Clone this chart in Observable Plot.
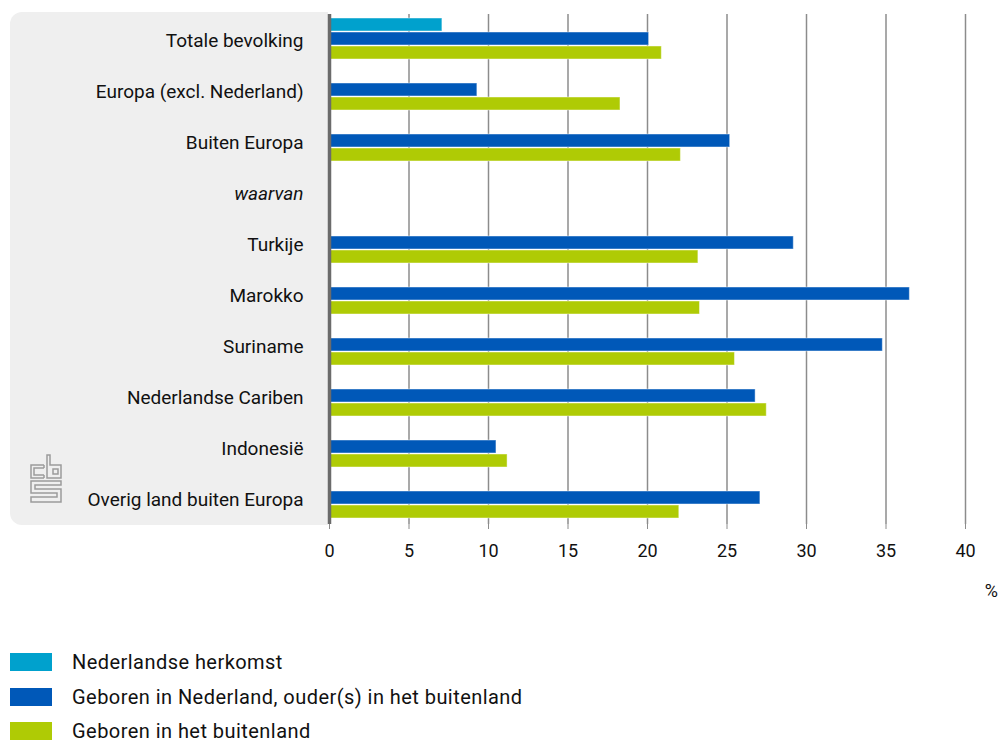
<!DOCTYPE html>
<html>
<head>
<meta charset="utf-8">
<script src="https://cdn.jsdelivr.net/npm/d3@7"></script>
<script src="https://cdn.jsdelivr.net/npm/@observablehq/plot@0.6"></script>
<style>
  html, body { margin: 0; background: white; font-family: Roboto, sans-serif; overflow: hidden; }
  #wrap { position: relative; width: 998px; }
  #panel { position: absolute; left: 10px; top: 12px; width: 318px; height: 513px; background: #efefef; border-radius: 12px 0 0 12px; }
  #logo { position: absolute; left: 30px; top: 454px; }
  #chart { position: relative; }
  #pct { position: absolute; right: 0px; top: 580px; font-size: 18px; color: #111; }
  #legend { margin-top: 42px; }
  .item { display: flex; align-items: center; height: 20px; margin-bottom: 14.5px; }
  .item:last-child { margin-bottom: 0; }
  .sw { width: 42px; height: 18px; margin-left: 10px; margin-right: 20px; }
  .lab { font-size: 20px; letter-spacing: 0.45px; color: #111; line-height: 20px; }
</style>
</head>
<body>
<div id="wrap">
  <div id="panel"></div>
  <svg id="logo" width="33" height="50" viewBox="0 0 33 50" fill="none" stroke="#9c9c9c" stroke-width="1.5">
    <path d="M14 11 H1 V24 H14 M14 14 H4 V21 H14 M14 11 V14 M14 21 V24"/>
    <path d="M17 1 H20 V11 H31 V24 H17 Z"/>
    <path d="M23 15 H28 V20 H23 Z"/>
    <path d="M31 27 H1 V39 H27 V43 H1 V48 H31 V35 H5 V31 H31 Z"/>
  </svg>
  <div id="chart"></div>
  <div id="pct">%</div>
</div>
<div id="legend"></div>
<script>
const categories = [
  "Totale bevolking",
  "Europa (excl. Nederland)",
  "Buiten Europa",
  "waarvan",
  "Turkije",
  "Marokko",
  "Suriname",
  "Nederlandse Cariben",
  "Indonesië",
  "Overig land buiten Europa"
];
const seriesNames = [
  "Nederlandse herkomst",
  "Geboren in Nederland, ouder(s) in het buitenland",
  "Geboren in het buitenland"
];
const seriesColors = ["#00a1cd", "#0058b8", "#afcb05"];
const nederlandseHerkomst = [7.1, null, null, null, null, null, null, null, null, null];
const geborenInNederland = [20.1, 9.3, 25.2, null, 29.2, 36.5, 34.8, 26.8, 10.5, 27.1];
const geborenInBuitenland = [20.9, 18.3, 22.1, null, 23.2, 23.3, 25.5, 27.5, 11.2, 22.0];
const xTicks = [0, 5, 10, 15, 20, 25, 30, 35, 40];
const italicCategory = "waarvan";

const seriesValues = [nederlandseHerkomst, geborenInNederland, geborenInBuitenland];
const rows = [];
categories.forEach((c, i) => {
  seriesValues.forEach((vals, s) => {
    if (vals[i] != null) rows.push({category: c, series: seriesNames[s], value: vals[i]});
  });
});

const chart = Plot.plot({
  width: 998,
  height: 610,
  marginLeft: 329,
  marginRight: 33,
  marginTop: 12,
  marginBottom: 85,
  style: {background: "transparent", fontFamily: "Roboto, sans-serif"},
  x: {domain: [0, 40], label: null},
  y: {domain: seriesNames, axis: null, paddingInner: 0.1, paddingOuter: 0.3},
  fy: {domain: categories, axis: null, padding: 0},
  color: {domain: seriesNames, range: seriesColors},
  marks: [
    Plot.gridX(xTicks, {stroke: "#8c8c8c", strokeOpacity: 1, strokeWidth: 1.5}),
    Plot.barX(rows, {fy: "category", y: "series", x: "value", fill: "series", stroke: "white", strokeOpacity: 0.45, strokeWidth: 1, dy: -1}),
    Plot.ruleX([0], {stroke: "#6b6b6b", strokeWidth: 3.5}),
    Plot.axisX(xTicks, {tickSize: 5, tickPadding: 15, fontSize: 18, stroke: "#8c8c8c", fill: "#111", label: null}),
    Plot.text(categories.filter(c => c !== italicCategory), {fy: d => d, text: d => d, frameAnchor: "left", dx: -26, dy: 1, textAnchor: "end", fontSize: 19, fill: "#111"}),
    Plot.text(categories.filter(c => c === italicCategory), {fy: d => d, text: d => d, frameAnchor: "left", dx: -26, dy: 1, textAnchor: "end", fontSize: 19, fontStyle: "italic", fill: "#111"})
  ]
});
document.getElementById("chart").appendChild(chart);

const legend = document.getElementById("legend");
seriesNames.forEach((name, i) => {
  const item = document.createElement("div");
  item.className = "item";
  const sw = document.createElement("div");
  sw.className = "sw";
  sw.style.background = seriesColors[i];
  const lab = document.createElement("span");
  lab.className = "lab";
  lab.textContent = name;
  item.appendChild(sw);
  item.appendChild(lab);
  legend.appendChild(item);
});
</script>
</body>
</html>
